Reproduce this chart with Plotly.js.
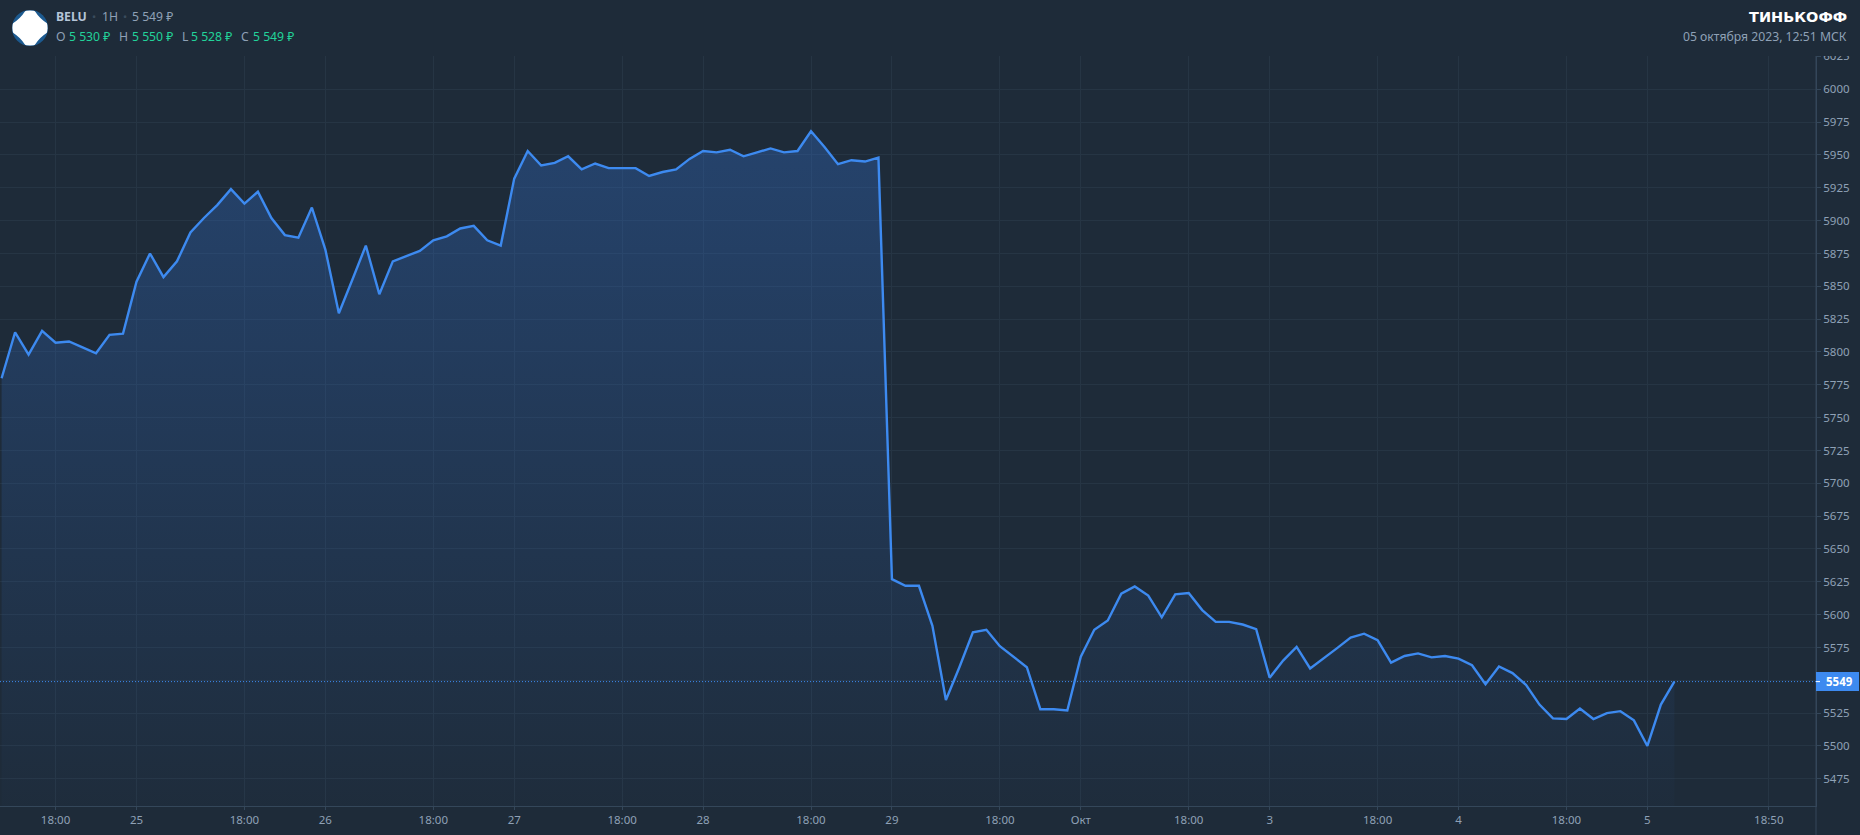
<!DOCTYPE html>
<html>
<head>
<meta charset="utf-8">
<script src="https://cdn.plot.ly/plotly-3.0.1.min.js"></script>
<style>html,body{margin:0;padding:0;background:#1e2b39;overflow:hidden}#chart{width:1860px;height:835px}</style>
</head>
<body>
<div id="chart"></div>
<script>
const closes = [
5780,5815,5798,5816,5807,5808,5803.5,5799,5813,5814,
5853.5,5875,5857,5869,5891,5902,5912,5924,5913,5922,
5902,5889,5887,5910,5878,5829.5,5855,5881,5844,5869,
5873,5877,5885,5888,5894,5896,5885,5881,5932,5953,
5942,5944,5949,5939,5943.5,5940,5940,5940,5934,5937,
5939,5947,5953,5952,5954,5949,5952,5955,5952,5953,
5968,5956,5943,5946,5945,5948,5627,5622,5622,5591.5,
5535,5560,5586.5,5588.5,5576,5568,5560,5528,5528,5527,
5568,5588.5,5595.5,5616,5621.5,5614.5,5598,5615.5,5616.5,5603.5,
5594.5,5594.5,5592.5,5589,5552,5565,5575.5,5559,5566.5,5574.5,
5582.5,5585.5,5580.5,5563.5,5568.5,5570.5,5567.5,5568.5,5566.5,5561.5,
5547,5560.5,5555.5,5546.5,5531.5,5521,5520.5,5528.5,5520.5,5525,
5526.5,5519.5,5500,5531.5,5549
];
const barIndex = closes.map((_, i) => i);
const timeTickBars = [4,10,18,24,32,38,46,52,60,66,74,80,88,94,102,108,116,122,131];
const timeTickLabels = ['18:00','25','18:00','26','18:00','27','18:00','28','18:00','29','18:00','Окт','18:00','3','18:00','4','18:00','5','18:50'];
const priceTicks = [5475,5500,5525,5550,5575,5600,5625,5650,5675,5700,5725,5750,5775,5800,5825,5850,5875,5900,5925,5950,5975,6000,6025];
const priceTickLabels = ['5475','5500','5525','','5575','5600','5625','5650','5675','5700','5725','5750','5775','5800','5825','5850','5875','5900','5925','5950','5975','6000','6025'];
const lastPrice = 5549;

const W = 1860, H = 835, mL = 0, mR = 44, mT = 56, mB = 29;
const pw = W - mL - mR, ph = H - mT - mB;
const px = x => (x - mL) / pw;
const py = y => 1 - (y - mT) / ph;

const BG = '#1e2b39', GRID = '#263544', AXIS = '#34475a', BLUE = '#3d8af0';
const LABEL = '#8fa1b6', GREEN = '#22d39a';
const FONT = '"Noto Sans", "Open Sans", sans-serif';

const trace = {
  x: barIndex, y: closes, type: 'scatter', mode: 'lines',
  line: {color: BLUE, width: 2.4, shape: 'linear'},
  fill: 'tozeroy',
  fillgradient: {type: 'vertical', start: 5454, stop: 5968,
    colorscale: [[0, 'rgba(50,110,200,0.02)'], [0.35, 'rgba(50,110,200,0.14)'], [1, 'rgba(50,110,200,0.36)']]},
  hoverinfo: 'skip', cliponaxis: true
};

function txt(text, x, y, opts) {
  return Object.assign({text, xref: 'paper', yref: 'paper', x: px(x), y: py(y), showarrow: false,
    xanchor: 'left', yanchor: 'middle', align: 'left', borderpad: 0,
    font: {family: FONT, size: 12.2, color: LABEL}}, opts || {});
}
function ohlc(letter, val, x) {
  const gap = letter === 'L' ? 9 : letter === 'C' ? 11.5 : 12.5;
  return [txt(letter, x, 36.5), txt(val, x + gap, 36.5, {font: {family: FONT, size: 12.2, color: GREEN}})];
}

const logo = 'data:image/svg+xml;base64,' + btoa(
 '<svg xmlns="http://www.w3.org/2000/svg" width="36" height="36" viewBox="0 0 36 36"><defs><clipPath id="c"><circle cx="18" cy="18" r="17.6"/></clipPath></defs>' +
 '<circle cx="18" cy="18" r="18" fill="#1c5a90"/><g clip-path="url(#c)"><path d="M13 0 L23 0 L23 1.3 Q27.5 8.5 34.7 13 L36 13 L36 23 L34.7 23 Q27.5 27.5 23 34.7 L23 36 L13 36 L13 34.7 Q8.5 27.5 1.3 23 L0 23 L0 13 L1.3 13 Q8.5 8.5 13 1.3 Z" fill="#fff"/></g></svg>');

const layout = {
  width: W, height: H, autosize: false,
  margin: {l: mL, r: mR, t: mT, b: mB, pad: 0},
  paper_bgcolor: BG, plot_bgcolor: BG, showlegend: false, hovermode: false,
  xaxis: {
    range: [-0.119, 134.5], tickmode: 'array', tickvals: timeTickBars, ticktext: timeTickLabels,
    showgrid: true, gridcolor: GRID, gridwidth: 1, zeroline: false,
    showline: true, linecolor: AXIS, linewidth: 1,
    ticks: 'outside', ticklen: 3, tickcolor: AXIS, tickwidth: 1,
    tickfont: {family: FONT, size: 11.5, color: LABEL}, tickangle: 0, fixedrange: true
  },
  yaxis: {
    range: [5454.3, 6025.35], side: 'right', tickmode: 'array', tickvals: priceTicks, ticktext: priceTickLabels,
    showgrid: true, gridcolor: GRID, gridwidth: 1, zeroline: false,
    showline: true, linecolor: AXIS, linewidth: 1,
    ticks: 'outside', ticklen: 4, tickcolor: AXIS, tickwidth: 1,
    tickfont: {family: FONT, size: 11.5, color: LABEL}, fixedrange: true
  },
  images: [{source: logo, xref: 'paper', yref: 'paper', x: px(12), y: py(10), sizex: 36 / pw, sizey: 36 / ph,
    xanchor: 'left', yanchor: 'top', sizing: 'stretch', layer: 'above'}],
  shapes: [
    {type: 'rect', xref: 'paper', yref: 'paper', x0: 1, x1: px(W), y0: 1, y1: py(0), fillcolor: BG, line: {width: 0}, layer: 'above'},
    {type: 'line', xref: 'paper', yref: 'paper', x0: 1, x1: 1, y0: py(H), y1: 1, line: {color: AXIS, width: 1}, layer: 'above'},
    {type: 'line', xref: 'paper', yref: 'y', x0: 0, x1: 1, y0: lastPrice, y1: lastPrice, line: {color: BLUE, width: 1, dash: '1px,2px'}, layer: 'above'},
    {type: 'rect', xref: 'paper', yref: 'y', x0: 1, x1: px(1859), y0: lastPrice - 9.5 / 1.3134, y1: lastPrice + 9.5 / 1.3134, fillcolor: BLUE, line: {width: 0}, layer: 'above'},
    {type: 'line', xref: 'paper', yref: 'y', x0: 1, x1: px(1820), y0: lastPrice, y1: lastPrice, line: {color: '#ffffff', width: 1}, layer: 'above'}
  ],
  annotations: [
    txt('<b>BELU</b>', 55, 17, {font: {family: FONT, size: 12.2, color: '#b5c5d8'}}),
    txt('•', 90.5, 17, {font: {family: FONT, size: 11, color: '#3a4b5d'}}),
    txt('1H', 100.5, 17),
    txt('•', 121.5, 17, {font: {family: FONT, size: 11, color: '#3a4b5d'}}),
    txt('5 549 ₽', 130.5, 17),
    ...ohlc('O', '5 530 ₽', 55),
    ...ohlc('H', '5 550 ₽', 118),
    ...ohlc('L', '5 528 ₽', 181),
    ...ohlc('C', '5 549 ₽', 240),
    txt('<b>ТИНЬКОФФ</b>', 1848, 17, {xanchor: 'right', align: 'right', font: {family: '"DejaVu Sans", sans-serif', size: 14.5, color: '#ffffff'}}),
    txt('05 октября 2023, 12:51 МСК', 1848, 36.5, {xanchor: 'right', align: 'right'}),
    {text: '<b>' + lastPrice + '</b>', xref: 'paper', yref: 'y', x: px(1824), y: lastPrice, showarrow: false, xanchor: 'left', yanchor: 'middle',
      font: {family: FONT, size: 11.5, color: '#ffffff'}}
  ]
};

Plotly.newPlot('chart', [trace], layout, {displayModeBar: false, staticPlot: true});
</script>
</body>
</html>
